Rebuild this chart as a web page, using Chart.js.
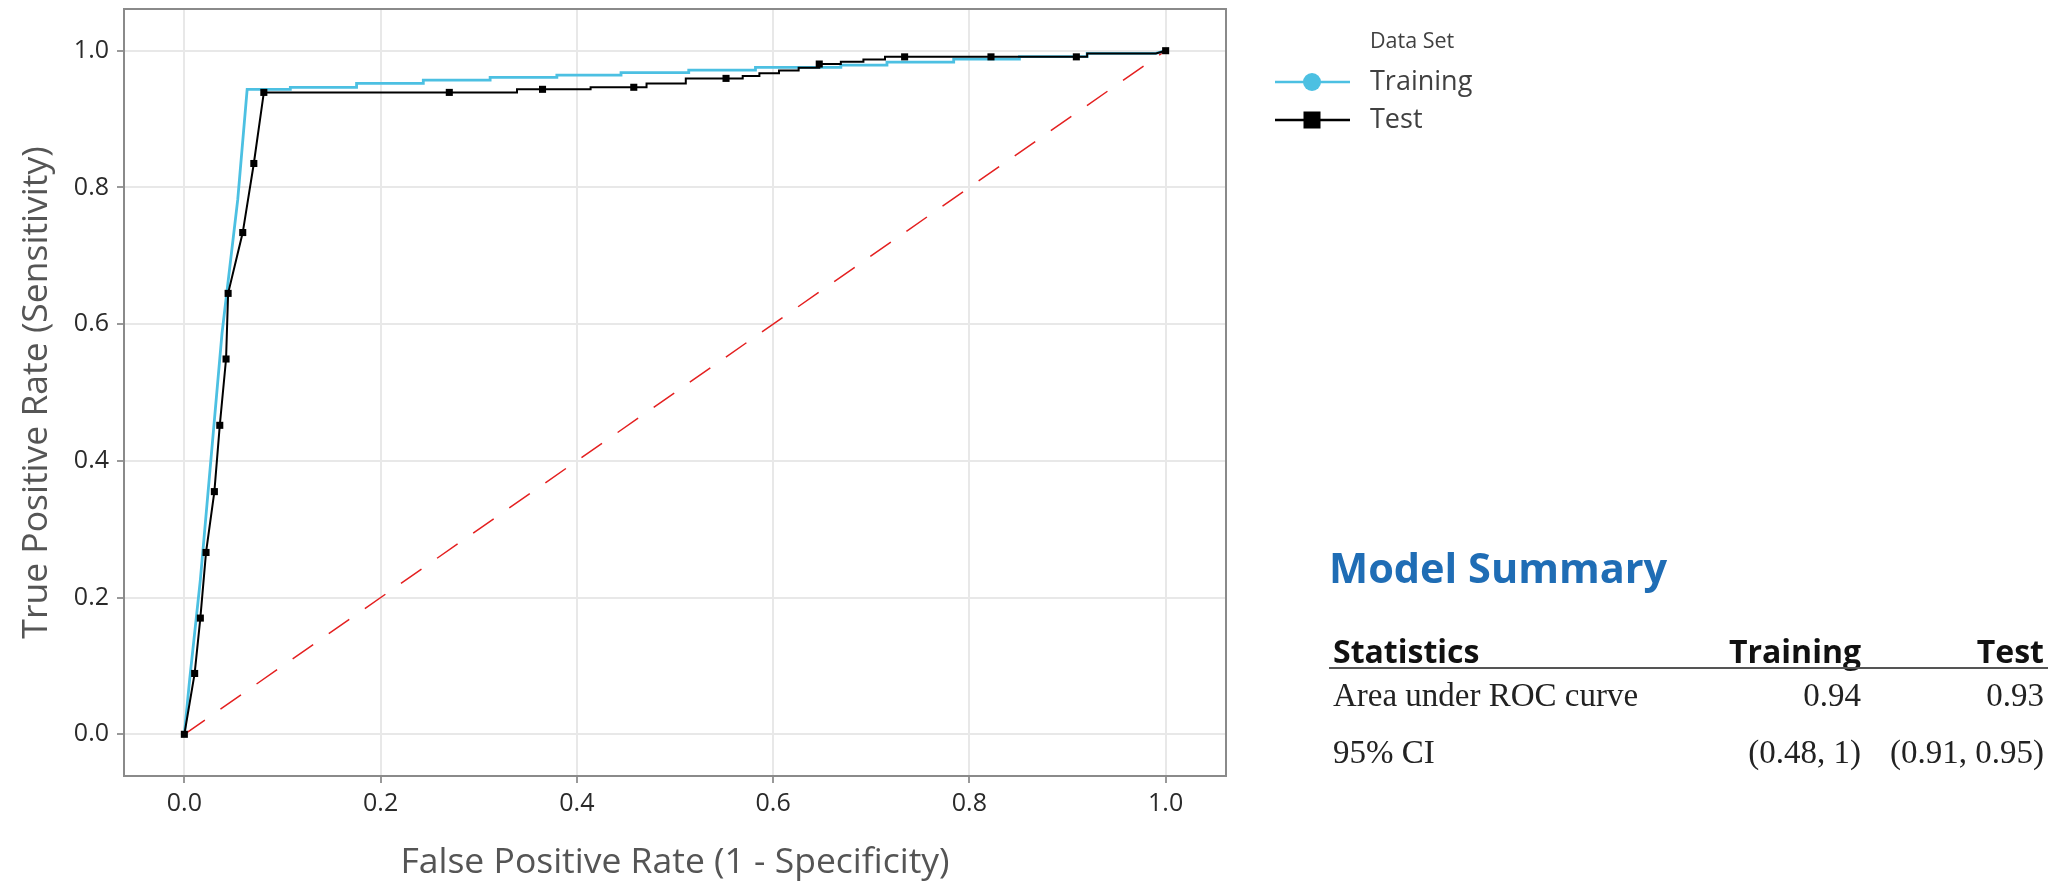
<!DOCTYPE html>
<html>
<head>
<meta charset="utf-8">
<script src="https://cdn.jsdelivr.net/npm/chart.js@4.4.0/dist/chart.umd.min.js"></script>
<style>
  html, body { margin: 0; padding: 0; background: #ffffff; }
  #wrap { position: relative; width: 2059px; height: 884px; overflow: hidden; background: #fff; }
  #c { position: absolute; left: 0; top: 0; }
  .t { position: absolute; white-space: nowrap; }
  .h { font-family: "Open Sans", sans-serif; font-weight: 700; font-size: 41.5px; line-height: 44px; color: #1f6db5; }
  .th { font-family: "Open Sans", sans-serif; font-weight: 700; font-size: 32px; line-height: 40px; color: #111; }
  .td { font-family: "Liberation Serif", serif; font-size: 33px; line-height: 40px; color: #222; }
  #rule { position: absolute; left: 1329px; top: 667px; width: 719px; height: 2px; background: #555; }
</style>
</head>
<body>
<div id="wrap">
  <canvas id="c" width="2059" height="884"></canvas>
  <div class="t h" style="left:1329px; top:545px;">Model Summary</div>
  <div class="t th" style="left:1333px; top:631px;">Statistics</div>
  <div class="t th" style="right:198px; top:631px;">Training</div>
  <div class="t th" style="right:15px; top:631px;">Test</div>
  <div id="rule"></div>
  <div class="t td" style="left:1333px; top:675px;">Area under ROC curve</div>
  <div class="t td" style="right:198px; top:675px;">0.94</div>
  <div class="t td" style="right:15px; top:675px;">0.93</div>
  <div class="t td" style="left:1333px; top:732px;">95% CI</div>
  <div class="t td" style="right:198px; top:732px;">(0.48, 1)</div>
  <div class="t td" style="right:15px; top:732px;">(0.91, 0.95)</div>
</div>
<script>
// ---------------- data ----------------
const xTickValues = [0, 0.2, 0.4, 0.6, 0.8, 1.0];
const xTickLabels = ["0.0", "0.2", "0.4", "0.6", "0.8", "1.0"];
const yTickValues = [0, 0.2, 0.4, 0.6, 0.8, 1.0];
const yTickLabels = ["0.0", "0.2", "0.4", "0.6", "0.8", "1.0"];

// Training ROC curve vertices
const trainX = [0, 0.0054, 0.0163, 0.0384, 0.0544, 0.064, 0.108, 0.108, 0.1755, 0.1755, 0.2435, 0.2435,
                0.3116, 0.3116, 0.3796, 0.3796, 0.445, 0.445, 0.514, 0.514, 0.582, 0.582, 0.669, 0.669,
                0.716, 0.716, 0.784, 0.784, 0.851, 0.851, 0.92, 0.92, 0.99, 1.0];
const trainY = [0, 0.08, 0.226, 0.587, 0.782, 0.9435, 0.9435, 0.9464, 0.9464, 0.9522, 0.9522, 0.9571,
                0.9571, 0.961, 0.961, 0.9644, 0.9644, 0.9678, 0.9678, 0.9717, 0.9717, 0.9756, 0.9756, 0.979,
                0.979, 0.9834, 0.9834, 0.9878, 0.9878, 0.9912, 0.9912, 0.996, 0.996, 1.0];

// Test ROC curve: marked points
const testX = [0, 0.0105, 0.0163, 0.0221, 0.0306, 0.0361, 0.0425, 0.0446, 0.0595, 0.0708, 0.081,
               0.270, 0.365, 0.458, 0.552, 0.647, 0.734, 0.822, 0.909, 1.0];
const testY = [0, 0.089, 0.170, 0.266, 0.355, 0.452, 0.549, 0.645, 0.734, 0.835, 0.939,
               0.939, 0.9435, 0.9465, 0.9595, 0.9805, 0.991, 0.991, 0.991, 1.0];
// Test ROC curve: unmarked stair corners between the marked points
const testStepX = [0.339, 0.339, 0.414, 0.414, 0.471, 0.471, 0.511, 0.511, 0.569, 0.569, 0.586, 0.586,
                   0.606, 0.606, 0.626, 0.626, 0.647, 0.669, 0.669, 0.692, 0.692, 0.714, 0.714,
                   0.920, 0.920, 0.990];
const testStepY = [0.939, 0.9435, 0.9435, 0.9465, 0.9465, 0.952, 0.952, 0.9595, 0.9595, 0.963, 0.963, 0.967,
                   0.967, 0.971, 0.971, 0.975, 0.975, 0.9805, 0.984, 0.984, 0.987, 0.987, 0.991,
                   0.991, 0.996, 0.996];

// Chance (reference) line
const refX = [0, 1];
const refY = [0, 1];

const seriesNames = ["Training", "Test"];
const legendTitle = "Data Set";
const xTitle = "False Positive Rate (1 - Specificity)";
const yTitle = "True Positive Rate (Sensitivity)";

// ---------------- build ----------------
const pts = (xs, ys) => xs.map((x, i) => ({ x: x, y: ys[i] }));
const testLine = pts(testX.concat(testStepX), testY.concat(testStepY))
  .sort((a, b) => (a.x - b.x) || (a.y - b.y));

const CYAN = '#4cc0e2';
const BLACK = '#000000';
const RED = '#e41f1f';
const FONT = '"Open Sans", sans-serif';

const boxPlugin = {
  id: 'panelBox',
  afterDraw(chart) {
    const { ctx, chartArea: a } = chart;
    ctx.save();
    ctx.strokeStyle = '#8a8a8a';
    ctx.lineWidth = 2;
    ctx.strokeRect(a.left, a.top, a.right - a.left, a.bottom - a.top);
    ctx.restore();
  }
};

const legendPlugin = {
  id: 'customLegend',
  afterDraw(chart) {
    const ctx = chart.ctx;
    const ds = chart.data.datasets;
    ctx.save();
    ctx.textBaseline = 'middle';
    ctx.textAlign = 'left';
    ctx.font = '21.5px ' + FONT;
    ctx.fillStyle = '#404040';
    ctx.fillText(legendTitle, 1370, 42);
    ctx.font = '27px ' + FONT;
    // Training
    ctx.strokeStyle = ds[2].borderColor; ctx.lineWidth = 2.5;
    ctx.beginPath(); ctx.moveTo(1275, 82); ctx.lineTo(1350, 82); ctx.stroke();
    ctx.fillStyle = ds[2].borderColor;
    ctx.beginPath(); ctx.arc(1312, 82, 9, 0, Math.PI * 2); ctx.fill();
    ctx.fillStyle = '#404040';
    ctx.fillText(seriesNames[0], 1370, 82);
    // Test
    ctx.strokeStyle = ds[1].borderColor; ctx.lineWidth = 2.5;
    ctx.beginPath(); ctx.moveTo(1275, 120); ctx.lineTo(1350, 120); ctx.stroke();
    ctx.fillStyle = ds[0].backgroundColor;
    ctx.fillRect(1312 - 8.5, 120 - 8.5, 17, 17);
    ctx.fillStyle = '#404040';
    ctx.fillText(seriesNames[1], 1370, 120);
    ctx.restore();
  }
};

function build() {
  const ctx = document.getElementById('c').getContext('2d');
  new Chart(ctx, {
    type: 'scatter',
    data: {
      datasets: [
        { label: 'Test markers', data: pts(testX, testY), showLine: false,
          pointStyle: 'rect', pointRadius: 5, backgroundColor: BLACK, borderColor: BLACK, borderWidth: 0, order: 0 },
        { label: 'Test', data: testLine, showLine: true, borderColor: BLACK, borderWidth: 2,
          pointRadius: 0, fill: false, order: 1 },
        { label: 'Training', data: pts(trainX, trainY), showLine: true, borderColor: CYAN, borderWidth: 2.8,
          pointRadius: 0, fill: false, order: 2 },
        { label: 'Reference', data: pts(refX, refY), showLine: true, borderColor: RED, borderWidth: 1.5,
          borderDash: [25, 19], pointRadius: 0, fill: false, order: 3 }
      ]
    },
    options: {
      responsive: false,
      animation: false,
      devicePixelRatio: 1,
      layout: { padding: { left: 0, top: 9, right: 833, bottom: 0 } },
      plugins: { legend: { display: false }, tooltip: { enabled: false } },
      scales: {
        x: {
          type: 'linear', min: -0.0615, max: 1.0615,
          afterBuildTicks: s => { s.ticks = xTickValues.map(v => ({ value: v })); },
          afterFit: s => { s.height = 108; s.paddingLeft = 0; s.paddingRight = 0; },
          ticks: { callback: (v, i) => xTickLabels[i], font: { family: FONT, size: 25 }, color: '#2a2a2a',
                   padding: 6, maxRotation: 0, autoSkip: false },
          grid: { color: '#e8e8e8', lineWidth: 2, tickColor: '#777', tickLength: 7, tickWidth: 1.5 },
          border: { display: false },
          title: { display: true, text: xTitle, font: { family: FONT, size: 35.5 }, color: '#555',
                   padding: { top: 0, bottom: 0 } }
        },
        y: {
          type: 'linear', min: -0.061, max: 1.061,
          afterBuildTicks: s => { s.ticks = yTickValues.map(v => ({ value: v })); },
          afterFit: s => { s.width = 124; s.paddingTop = 0; s.paddingBottom = 0; },
          ticks: { callback: (v, i) => yTickLabels[i], font: { family: FONT, size: 25 }, color: '#2a2a2a',
                   padding: 8, autoSkip: false },
          grid: { color: '#e8e8e8', lineWidth: 2, tickColor: '#777', tickLength: 7, tickWidth: 1.5 },
          border: { display: false },
          title: { display: true, text: yTitle, font: { family: FONT, size: 35.5 }, color: '#555',
                   padding: { top: 16, bottom: 0 } }
        }
      }
    },
    plugins: [boxPlugin, legendPlugin]
  });
}

Promise.all([
  document.fonts.load('24px "Open Sans"'),
  document.fonts.load('700 30px "Open Sans"'),
  document.fonts.load('31px "Liberation Serif"')
]).then(build, build);
</script>
</body>
</html>
